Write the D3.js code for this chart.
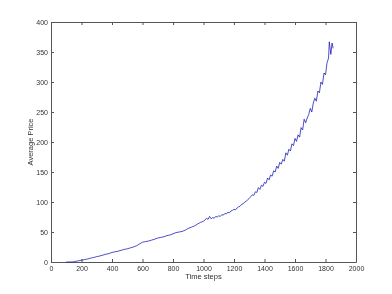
<!DOCTYPE html>
<html>
<head>
<meta charset="utf-8">
<script src="https://cdn.jsdelivr.net/npm/d3@7"></script>
<style>
 body { margin: 0; background: #fff; }
 svg { will-change: transform; }
 text { font-family: "Liberation Sans", Arial, sans-serif; fill: #333; }
</style>
</head>
<body>
<svg></svg>
<script>
// time steps and the average price
var timeSteps = [100, 120, 140, 160, 180, 200, 220, 240, 260, 280, 300, 320, 340, 360, 380,
  400, 420, 440, 460, 480, 500, 520, 540, 560, 580, 600, 620, 640, 660, 680,
  700, 720, 740, 760, 780, 800, 820, 840, 860, 880, 900, 920, 940, 960, 980,
  1000, 1010, 1020, 1030, 1040, 1050, 1060, 1070, 1080, 1090,
  1100, 1110, 1120, 1130, 1140, 1150, 1160, 1170, 1180, 1190,
  1200, 1210, 1220, 1230, 1240, 1250, 1260, 1270, 1280, 1290,
  1300, 1310, 1320, 1330, 1340, 1350, 1360, 1370, 1380, 1390,
  1400, 1410, 1420, 1430, 1440, 1450, 1460, 1470, 1480, 1490,
  1500, 1510, 1520, 1530, 1540, 1550, 1560, 1570, 1580, 1590,
  1600, 1610, 1620, 1630, 1640, 1650, 1660, 1670, 1680, 1690,
  1700, 1710, 1720, 1730, 1740, 1750, 1760, 1770, 1780, 1790,
  1800, 1810, 1820, 1825, 1835, 1843, 1850];
var avgPrice = [0, 0, 0, 1, 2, 3, 4, 5, 6.5, 7.5, 9, 10, 11.5, 13, 14,
  16, 17, 18, 19.5, 21, 22, 23.5, 25, 27, 30, 33, 34, 35, 36.5, 38,
  40, 41, 42, 44, 45, 47, 49, 50, 51, 53, 56, 58, 60, 63, 66,
  68, 70, 73, 71, 76, 72, 74, 73, 76, 75,
  77, 76, 79, 78, 81, 80, 83, 82, 85, 86,
  88, 87, 90, 92, 93, 96, 97, 100, 101, 104,
  106, 109, 112, 111, 117, 116, 124, 121, 128, 126,
  133, 131, 140, 137, 145, 143, 152, 150, 160, 156,
  166, 163, 171, 168, 182, 178, 188, 185, 197, 194,
  206, 201, 212, 208, 224, 220, 238, 232, 240, 246,
  256, 250, 265, 273, 268, 285, 282, 300, 296, 315,
  312, 332, 340, 367, 346, 365, 356];
var xTicks = [0, 200, 400, 600, 800, 1000, 1200, 1400, 1600, 1800, 2000];
var yTicks = [0, 50, 100, 150, 200, 250, 300, 350, 400];

var svgWidth = 392;
var svgHeight = 294;
var plotLeft = 51, plotRight = 356, plotTop = 22, plotBottom = 262;

var svg = d3.select('svg')
    .attr("width", svgWidth)
    .attr("height", svgHeight);

var x = d3.scaleLinear().domain([0, 2000]).range([plotLeft, plotRight]);
var y = d3.scaleLinear().domain([0, 400]).range([plotBottom, plotTop]);

// inward ticks, matlab style box
function styleAxis(g) {
  g.selectAll("path, line").attr("stroke", "#555").attr("stroke-width", 1);
  g.selectAll("text").attr("font-size", "7px").attr("fill", "#333")
    .attr("font-family", "'Liberation Sans', Arial, sans-serif");
}

svg.append("g")
    .attr("transform", "translate(0," + plotBottom + ")")
    .call(d3.axisBottom(x).tickValues(xTicks).tickFormat(d3.format("d"))
      .tickSizeInner(-3).tickSizeOuter(0).tickPadding(4))
    .call(styleAxis);

svg.append("g")
    .attr("transform", "translate(" + plotLeft + ",0)")
    .call(d3.axisLeft(y).tickValues(yTicks).tickFormat(d3.format("d"))
      .tickSizeInner(-3).tickSizeOuter(0).tickPadding(3))
    .call(styleAxis);

svg.append("g")
    .attr("transform", "translate(0," + plotTop + ")")
    .call(d3.axisTop(x).tickValues(xTicks).tickSizeInner(-3).tickSizeOuter(0).tickFormat(""))
    .call(styleAxis);

svg.append("g")
    .attr("transform", "translate(" + plotRight + ",0)")
    .call(d3.axisRight(y).tickValues(yTicks).tickSizeInner(-3).tickSizeOuter(0).tickFormat(""))
    .call(styleAxis);

// the price line
var line = d3.line()
    .x(function(d, i) { return x(timeSteps[i]); })
    .y(function(d) { return y(d); });

svg.append("path")
    .datum(avgPrice)
    .attr("fill", "none")
    .attr("stroke", "#1414b4")
    .attr("stroke-width", 0.75)
    .attr("d", line);

// axis titles
svg.append("text")
    .attr("x", (plotLeft + plotRight) / 2)
    .attr("y", 279)
    .attr("text-anchor", "middle")
    .attr("font-size", "7.5px")
    .text("Time steps");

svg.append("text")
    .attr("transform", "translate(33," + (plotTop + plotBottom) / 2 + ") rotate(-90)")
    .attr("text-anchor", "middle")
    .attr("font-size", "7.5px")
    .text("Average Price");
</script>
</body>
</html>
